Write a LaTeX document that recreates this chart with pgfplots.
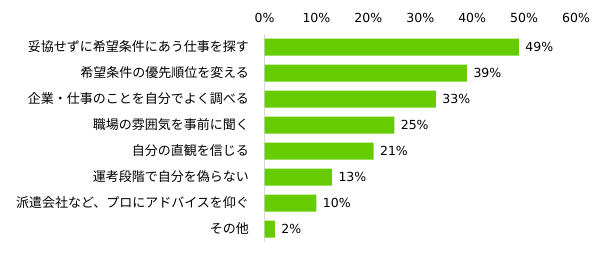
\documentclass[border=0pt]{standalone}
\usepackage{pgfplots}
\pgfplotsset{compat=1.18}
\usepackage{fontspec}
\setmainfont{Noto Sans CJK JP}
\newfontfamily\numfont{DejaVu Sans}
\definecolor{barc}{RGB}{102,204,0}
\definecolor{axc}{RGB}{217,217,217}
\begin{document}
\begin{tikzpicture}[x=1pt,y=1pt]
\path[use as bounding box] (0,0) rectangle (607,258);
\begin{axis}[
  at={(264.5pt,16pt)}, anchor=south west,
  scale only axis, width=311.5pt, height=208pt,
  xbar, bar width=17pt,
  xmin=0, xmax=60, ymin=-0.5, ymax=7.5, y dir=reverse,
  axis x line*=top, axis y line*=left,
  x axis line style={draw=none},
  y axis line style={draw=axc, line width=1pt},
  major tick length=0pt,
  xtick={0,10,...,60},
  /pgf/number format/assume math mode=true,
  xticklabel={\pgfmathprintnumber{\tick}\%},
  xticklabel style={font=\numfont\fontsize{12.5}{14}\selectfont, anchor=south, yshift=8pt},
  ytick={0,...,7},
  yticklabels={妥協せずに希望条件にあう仕事を探す,希望条件の優先順位を変える,企業・仕事のことを自分でよく調べる,職場の雰囲気を事前に聞く,自分の直観を信じる,運考段階で自分を偽らない,派遣会社など、プロにアドバイスを仰ぐ,その他},
  yticklabel style={font=\fontsize{13}{15}\selectfont, anchor=east, xshift=-12pt},
  nodes near coords={\pgfmathprintnumber{\pgfplotspointmeta}\%},
  point meta=x,
  nodes near coords style={font=\numfont\fontsize{12.5}{14}\selectfont, anchor=west, xshift=3pt, text=black},
  clip=false,
]
\addplot[fill=barc, draw=none] coordinates {
  (49,0) (39,1) (33,2) (25,3) (21,4) (13,5) (10,6) (2,7)
};
\end{axis}
\end{tikzpicture}
\end{document}
